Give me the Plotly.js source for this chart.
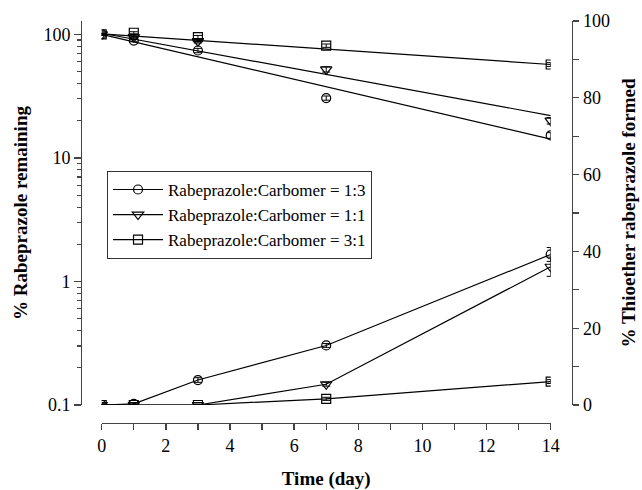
<!DOCTYPE html>
<html>
<head>
<meta charset="utf-8">
<script src="https://cdn.plot.ly/plotly-3.0.1.min.js"></script>
<style>html,body{margin:0;padding:0;background:#fff;}#chart{width:642px;height:490px;}</style>
</head>
<body>
<div id="chart"></div>
<script>
// Time points (days)
const days = [0, 1, 3, 7, 14];

// % Rabeprazole remaining (left, log axis)
const remain13 = [100, 89, 74, 30.5, 15.2];
const remain11 = [100, 95, 88, 52, 20];
const remain31 = [100, 103, 95, 81, 57];
const remainErr13 = [2, 2, 3, 1.2, 0.8];
const remainErr11 = [2, 2, 3, 2.5, 1.2];
const remainErr31 = [2, 2, 3, 2.5, 2];

// Fitted first-order decay lines (endpoints)
const fitDays = [0, 14];
const fit13 = [100, 14.2];
const fit11 = [102, 22];
const fit31 = [101, 57];

// % Thioether rabeprazole formed (right, linear axis)
const thio13 = [0, 0.3, 6.5, 15.5, 39.2];
const thio11 = [0, 0, 0, 5.4, 36];
const thio31 = [0, 0, 0, 1.6, 6.1];
const thioErr13 = [0.3, 0.3, 0.6, 0.5, 1.8];
const thioErr11 = [0.2, 0.2, 0.2, 0.5, 2.5];
const thioErr31 = [0.2, 0.2, 0.2, 0.4, 0.5];

const names = ['Rabeprazole:Carbomer = 1:3', 'Rabeprazole:Carbomer = 1:1', 'Rabeprazole:Carbomer = 3:1'];
const symbols = ['circle-open', 'triangle-down-open', 'square-open'];
const sizes = [9, 10, 9];

const FONT = 'Liberation Serif, Times New Roman, serif';
const AX = '#444';

function errBar(arr) {
  return {type: 'data', array: arr, visible: true, color: 'black', thickness: 1, width: 4};
}
function mk(i) {
  return {symbol: symbols[i], size: sizes[i], color: 'black', line: {color: 'black', width: 1.2}};
}

const remain = [remain13, remain11, remain31];
const remainErr = [remainErr13, remainErr11, remainErr31];
const fits = [fit13, fit11, fit31];
const thio = [thio13, thio11, thio31];
const thioErr = [thioErr13, thioErr11, thioErr31];

const traces = [];
for (let i = 0; i < 3; i++) {
  traces.push({x: fitDays, y: fits[i], mode: 'lines', yaxis: 'y', showlegend: false,
    line: {color: 'black', width: 1.2}, hoverinfo: 'skip'});
  traces.push({x: days, y: remain[i], mode: 'markers', yaxis: 'y', showlegend: false,
    marker: mk(i), error_y: errBar(remainErr[i]), name: names[i]});
}
for (let i = 0; i < 3; i++) {
  traces.push({x: days, y: thio[i], mode: 'lines+markers', yaxis: 'y2', name: names[i],
    line: {color: 'black', width: 1.2}, marker: mk(i), error_y: errBar(thioErr[i])});
}

const tickfont = {family: FONT, size: 18, color: 'black'};
const titlefont = {family: FONT, size: 19, color: 'black'};

const layout = {
  width: 642, height: 490,
  margin: {l: 81, r: 70, t: 21, b: 67, pad: 0},
  paper_bgcolor: 'white', plot_bgcolor: 'white',
  showlegend: true,
  legend: {
    x: 0.053, y: 0.627, xanchor: 'left', yanchor: 'top',
    bgcolor: 'white', bordercolor: '#333', borderwidth: 1,
    font: {family: FONT, size: 17, color: 'black'},
    itemwidth: 50, tracegroupgap: 0
  },
  xaxis: {
    domain: [0.0422, 0.9566], range: [0, 14], anchor: 'free', position: 0,
    showline: true, linecolor: AX, linewidth: 1.3, mirror: false,
    ticks: 'outside', ticklen: 6, tickwidth: 1.3, tickcolor: AX,
    tick0: 0, dtick: 2,
    minor: {dtick: 1, ticks: 'outside', ticklen: 6, tickwidth: 1.3, tickcolor: AX, showgrid: false},
    showgrid: false, zeroline: false, tickfont: tickfont,
    title: {text: '<b>Time (day)</b>', font: titlefont, standoff: 26}
  },
  yaxis: {
    domain: [0.0448, 1], type: 'log', range: [-1, 2.108], anchor: 'free', position: 0,
    showline: true, linecolor: AX, linewidth: 1.3,
    ticks: 'outside', ticklen: 7, tickwidth: 1.3, tickcolor: AX,
    tickvals: [0.1, 1, 10, 100], ticktext: ['0.1', '1', '10', '100'],
    minor: {dtick: 'D1', ticks: 'outside', ticklen: 4, tickwidth: 1.1, tickcolor: AX, showgrid: false},
    showgrid: false, zeroline: false, tickfont: tickfont,
    title: {text: '<b>% Rabeprazole remaining</b>', font: titlefont, standoff: 9}
  },
  yaxis2: {
    domain: [0.0448, 1], range: [0, 100], anchor: 'free', position: 1, overlaying: 'y', side: 'right',
    showline: true, linecolor: AX, linewidth: 1.3,
    ticks: 'outside', ticklen: 6, tickwidth: 1.3, tickcolor: AX,
    tick0: 0, dtick: 20,
    minor: {dtick: 10, ticks: 'outside', ticklen: 6, tickwidth: 1.3, tickcolor: AX, showgrid: false},
    showgrid: false, zeroline: false, tickfont: tickfont,
    title: {text: '<b>% Thioether rabeprazole formed</b>', font: titlefont, standoff: 12}
  }
};

Plotly.newPlot('chart', traces, layout, {staticPlot: true, displayModeBar: false});
</script>
</body>
</html>
